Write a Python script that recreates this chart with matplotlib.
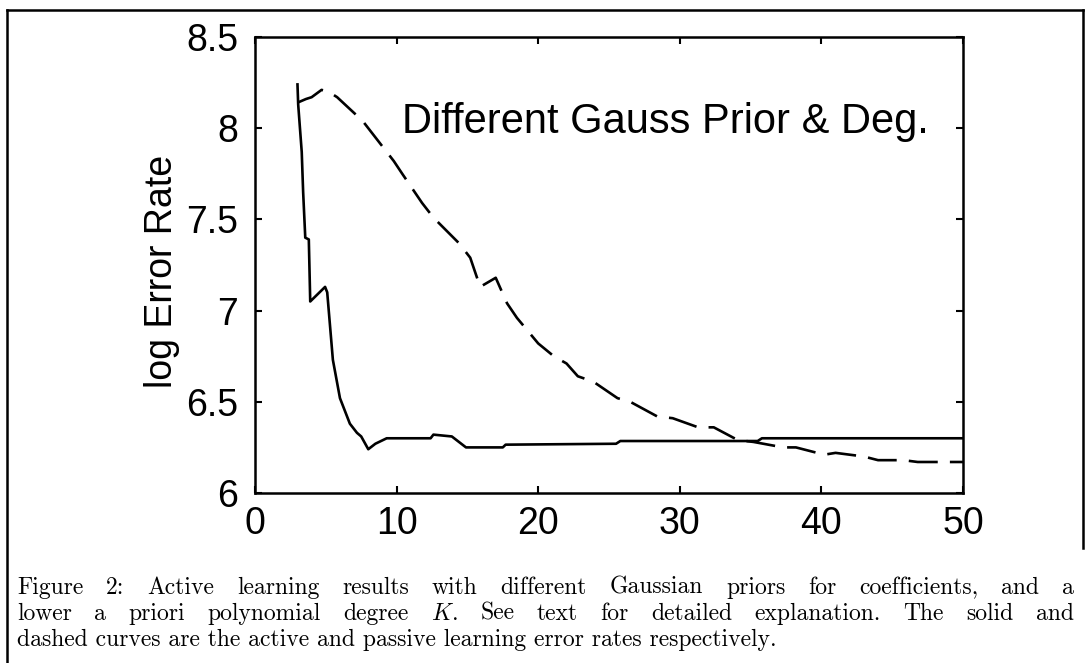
import numpy as np
import matplotlib
matplotlib.use("Agg")
import matplotlib.pyplot as plt
from matplotlib.lines import Line2D

# active learning (solid) curve
active_x = [3.0, 3.05, 3.3, 3.4, 3.55, 3.8, 3.9, 4.95, 5.1, 5.5, 6.0, 6.7, 7.2, 7.5,
            8.0, 8.5, 9.3, 12.4, 12.6, 13.9, 14.9, 17.5, 17.7, 25.5, 25.8, 35.5,
            35.8, 50.0]
active_y = [8.24, 8.13, 7.87, 7.65, 7.40, 7.39, 7.05, 7.13, 7.10, 6.73, 6.52, 6.38,
            6.33, 6.31, 6.24, 6.27, 6.30, 6.30, 6.32, 6.31, 6.25, 6.25, 6.265, 6.27,
            6.285, 6.285, 6.30, 6.30]

# passive learning (dashed) curve
passive_x = [3.0, 3.6, 4.0, 4.7, 5.2, 5.8, 7.6, 8.5, 9.8, 10.4, 11.8, 12.6, 14.4,
             15.2, 15.9, 17.0, 17.8, 18.5, 20.0, 21.1, 22.0, 22.8, 23.9, 25.6, 26.5,
             28.4, 29.5, 31.3, 32.4, 34.1, 35.2, 37.3, 38.2, 40.2, 41.0, 43.0, 44.0,
             45.8, 46.8, 49.0, 50.0]
passive_y = [8.14, 8.16, 8.17, 8.21, 8.20, 8.17, 8.04, 7.95, 7.82, 7.75, 7.59, 7.51,
             7.37, 7.29, 7.13, 7.18, 7.04, 6.96, 6.82, 6.75, 6.71, 6.64, 6.61, 6.52,
             6.50, 6.42, 6.41, 6.36, 6.36, 6.29, 6.28, 6.25, 6.25, 6.21, 6.22, 6.20,
             6.18, 6.18, 6.17, 6.17, 6.17]

xticks = [0, 10, 20, 30, 40, 50]
yticks = [6, 6.5, 7, 7.5, 8, 8.5]
ytick_labels = ["6", "6.5", "7", "7.5", "8", "8.5"]

caption_lines = [
    "Figure 2:  Active learning results with different Gaussian priors for coefficients, and a",
    "lower a priori polynomial degree $K$.  See text for detailed explanation.  The solid and",
    "dashed curves are the active and passive learning error rates respectively.",
]

plt.rcParams['mathtext.fontset'] = 'cm'
sans = ['Liberation Sans', 'DejaVu Sans']

W, H = 1092, 663
fig = plt.figure(figsize=(W / 100, H / 100), dpi=100)
ax = fig.add_axes([255 / W, 1 - 493 / H, (963 - 255) / W, (493 - 37) / H])

ax.plot(active_x, active_y, color='black', lw=1.9)
ax.plot(passive_x, passive_y, color='black', lw=1.9,
        linestyle=(0, (11, 4.6)))

ax.set_xlim(0, 50)
ax.set_ylim(6, 8.5)
ax.set_xticks(xticks)
ax.set_xticklabels([str(t) for t in xticks], family=sans, fontsize=27)
ax.set_yticks(yticks)
ax.set_yticklabels(ytick_labels, family=sans, fontsize=27)
ax.tick_params(direction='in', length=5, width=1.5, top=True, right=True)
ax.tick_params(axis='x', pad=9)
ax.tick_params(axis='y', pad=12)
for s in ax.spines.values():
    s.set_linewidth(1.8)

ax.set_ylabel("log Error Rate", family=sans, fontsize=27)
ax.yaxis.set_label_coords(-0.106, 0.485)

ax.text(10.4, 7.974, "Different Gauss Prior & Deg.", family=sans, fontsize=30,
        va='baseline', ha='left')

# outer frame
frame_kw = dict(color='black', lw=1.8, transform=fig.transFigure)
fig.add_artist(Line2D([7 / W, 7 / W], [0, 1 - 10 / H], **frame_kw))
fig.add_artist(Line2D([7 / W, 1083 / W], [1 - 10 / H, 1 - 10 / H], **frame_kw))
fig.add_artist(Line2D([1083 / W, 1083 / W], [1 - 10 / H, 1 - 548 / H], **frame_kw))

# caption, first two lines justified between left and right margin
left_px, right_px = 17, 1074
baselines = [594, 620, 646]
cap_size = 17
renderer = fig.canvas.get_renderer()
for i, line in enumerate(caption_lines):
    yb = 1 - baselines[i] / H
    if i == len(caption_lines) - 1:
        fig.text(left_px / W, yb, line, family='cmr10', fontsize=cap_size, va='baseline')
        continue
    words = line.split()
    texts = [fig.text(0, yb, w, family='cmr10', fontsize=cap_size, va='baseline')
             for w in words]
    widths = [t.get_window_extent(renderer).width for t in texts]
    gap = (right_px - left_px - sum(widths)) / (len(words) - 1)
    x = left_px
    for t, w in zip(texts, widths):
        t.set_x(x / W)
        x += w + gap

fig.savefig("out.png", dpi=100)
